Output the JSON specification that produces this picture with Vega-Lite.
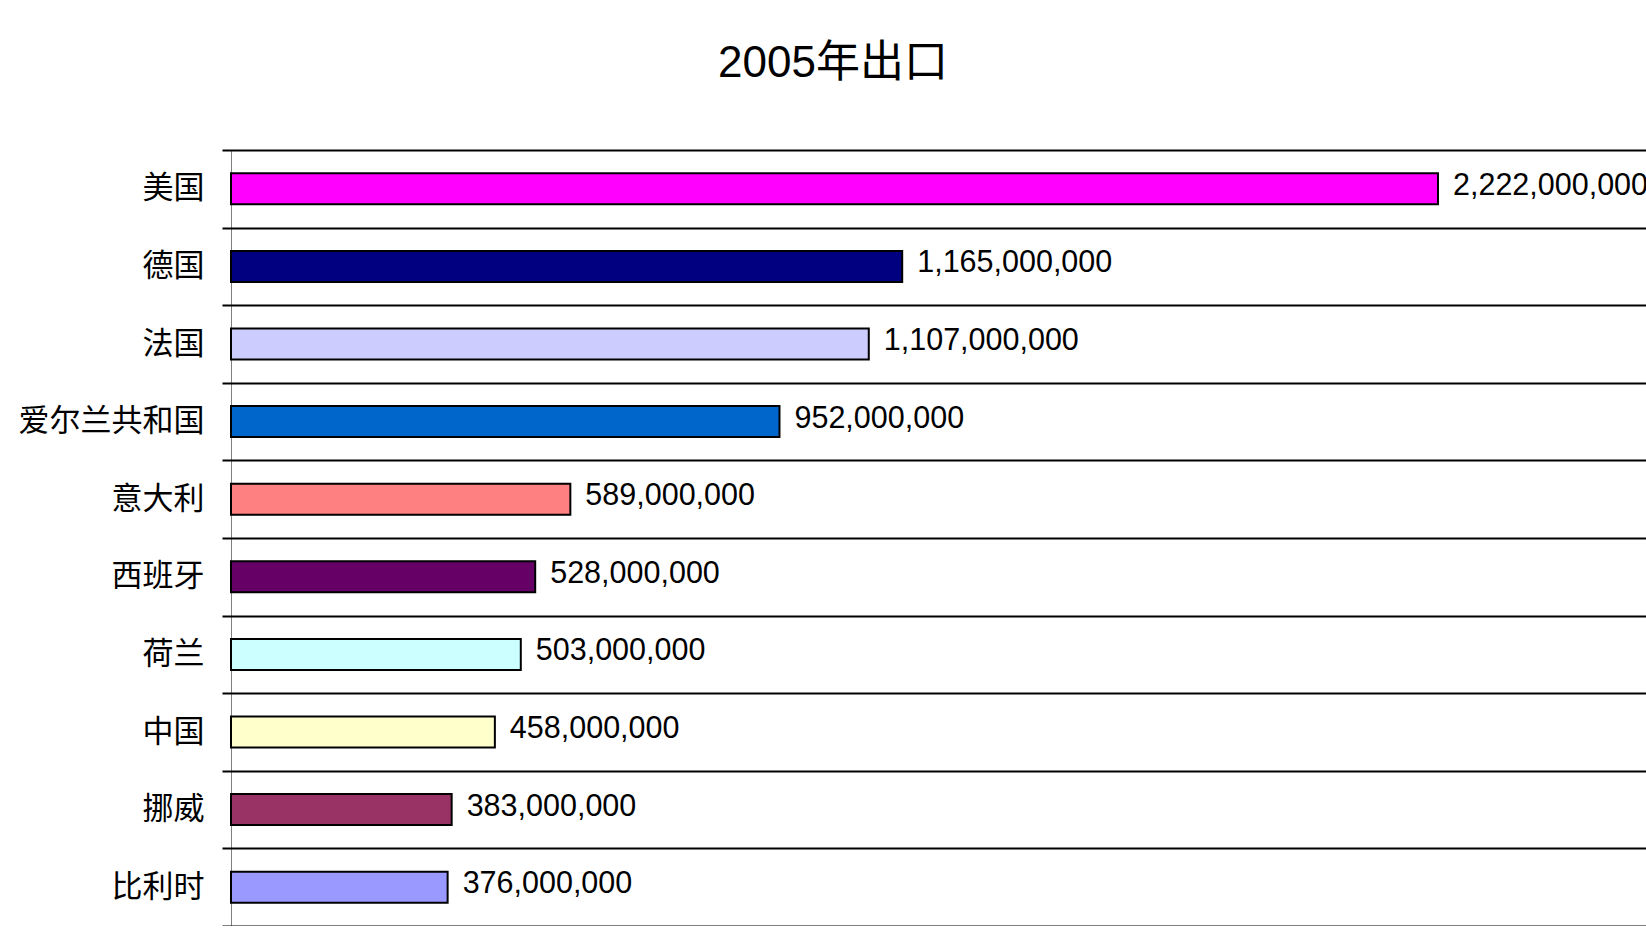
{
  "$schema": "https://vega.github.io/schema/vega-lite/v6.json",
  "autosize": "none",
  "padding": {"left": 231, "top": 150, "right": 0, "bottom": 0},
  "width": 1500,
  "height": 776,
  "background": "white",
  "title": {
    "text": "2005年出口",
    "font": "Liberation Sans, Noto Sans CJK SC",
    "fontSize": 44,
    "fontWeight": "normal",
    "color": "black",
    "anchor": "middle",
    "dx": -148,
    "offset": 13,
    "baseline": "alphabetic"
  },
  "data": {
    "values": [
      {"country": "美国", "exports": 2222000000},
      {"country": "德国", "exports": 1165000000},
      {"country": "法国", "exports": 1107000000},
      {"country": "爱尔兰共和国", "exports": 952000000},
      {"country": "意大利", "exports": 589000000},
      {"country": "西班牙", "exports": 528000000},
      {"country": "荷兰", "exports": 503000000},
      {"country": "中国", "exports": 458000000},
      {"country": "挪威", "exports": 383000000},
      {"country": "比利时", "exports": 376000000}
    ]
  },
  "encoding": {
    "y": {
      "field": "country",
      "type": "nominal",
      "sort": null,
      "scale": {"paddingInner": 0, "paddingOuter": 0},
      "axis": {
        "title": null,
        "tickBand": "extent",
        "grid": false,
        "domain": false,
        "offset": 9,
        "tickColor": "black",
        "tickSize": -1430,
        "tickWidth": 2,
        "labelPadding": 1448,
        "labelFont": "Noto Sans CJK SC",
        "labelFontSize": 31,
        "labelColor": "black",
        "labelLimit": 400
      }
    },
    "x": {
      "field": "exports",
      "type": "quantitative",
      "scale": {"domain": [0, 2095000000], "range": [0, 1207], "clamp": true, "nice": false, "zero": true},
      "axis": {
        "values": [0],
        "grid": true,
        "gridColor": "#808080",
        "gridWidth": 1,
        "domain": false,
        "ticks": false,
        "labels": false,
        "title": null
      }
    }
  },
  "layer": [
    {
      "mark": {"type": "bar", "height": {"band": 0.4}, "stroke": "black", "strokeWidth": 2},
      "encoding": {
        "color": {
          "field": "country",
          "type": "nominal",
          "legend": null,
          "scale": {
            "domain": ["美国", "德国", "法国", "爱尔兰共和国", "意大利", "西班牙", "荷兰", "中国", "挪威", "比利时"],
            "range": ["#FF00FF", "#000080", "#CCCCFF", "#0066CC", "#FF8080", "#660066", "#CCFFFF", "#FFFFCC", "#993366", "#9999FF"]
          }
        }
      }
    },
    {
      "mark": {"type": "text", "align": "left", "baseline": "middle", "dx": 15, "dy": -3, "font": "Liberation Sans", "fontSize": 30.5, "color": "black"},
      "encoding": {
        "text": {"field": "exports", "type": "quantitative", "format": ",.0f"}
      }
    }
  ],
  "config": {"view": {"stroke": null}}
}
